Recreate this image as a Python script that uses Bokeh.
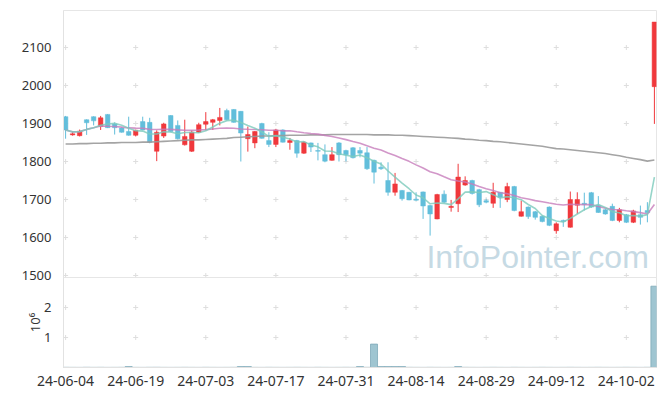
import math
import pandas as pd
from bokeh.plotting import figure
from bokeh.models import Range1d, FixedTicker, Label, ColumnDataSource, Span
from bokeh.embed import file_html
from bokeh.resources import INLINE

# ---- data ----
opens = [1918, 1870, 1868, 1910, 1918, 1892, 1924, 1899, 1888, 1879,
         1869, 1905, 1903, 1827, 1867, 1921, 1895, 1844, 1827, 1877,
         1898, 1903, 1908, 1934, 1937, 1932, 1860, 1849, 1900, 1855,
         1845, 1883, 1850, 1855, 1822, 1849, 1829, 1818, 1803, 1849,
         1829, 1836, 1829, 1823, 1803, 1785, 1750, 1719, 1724, 1719,
         1701, 1720, 1684, 1649, 1714, 1679, 1689, 1738, 1750, 1726,
         1697, 1690, 1719, 1700, 1734, 1656, 1680, 1668, 1656, 1680,
         1618, 1645, 1627, 1685, 1690, 1718, 1684, 1673, 1682, 1645,
         1660, 1640, 1660, 1671, 1997]
highs = [1920, 1880, 1884, 1911, 1919, 1920, 1925, 1903, 1890, 1918,
         1884, 1918, 1915, 1882, 1902, 1922, 1908, 1910, 1882, 1902,
         1930, 1912, 1941, 1939, 1938, 1933, 1892, 1880, 1902, 1877,
         1886, 1885, 1862, 1857, 1853, 1850, 1849, 1845, 1838, 1851,
         1831, 1838, 1838, 1838, 1805, 1798, 1798, 1770, 1725, 1720,
         1719, 1721, 1686, 1715, 1724, 1699, 1794, 1761, 1752, 1728,
         1702, 1744, 1720, 1744, 1736, 1697, 1682, 1670, 1658, 1682,
         1640, 1647, 1721, 1719, 1718, 1720, 1709, 1675, 1689, 1678,
         1662, 1673, 1684, 1693, 2167]
lows = [1860, 1868, 1866, 1870, 1895, 1883, 1888, 1871, 1876, 1868,
        1866, 1882, 1848, 1801, 1862, 1877, 1858, 1842, 1825, 1875,
        1882, 1883, 1895, 1908, 1902, 1800, 1826, 1835, 1860, 1838,
        1838, 1850, 1831, 1810, 1820, 1825, 1803, 1798, 1802, 1800,
        1800, 1808, 1811, 1778, 1742, 1778, 1710, 1710, 1697, 1698,
        1697, 1649, 1605, 1648, 1690, 1668, 1667, 1736, 1713, 1680,
        1690, 1678, 1678, 1693, 1669, 1655, 1649, 1647, 1640, 1630,
        1610, 1628, 1626, 1662, 1671, 1678, 1665, 1660, 1643, 1640,
        1638, 1638, 1634, 1640, 1899]
closes = [1883, 1873, 1880, 1902, 1907, 1915, 1889, 1889, 1877, 1869,
          1882, 1883, 1851, 1877, 1899, 1879, 1860, 1866, 1877, 1897,
          1905, 1910, 1916, 1910, 1903, 1875, 1871, 1879, 1861, 1845,
          1883, 1851, 1855, 1822, 1851, 1838, 1827, 1801, 1818, 1818,
          1818, 1810, 1822, 1781, 1772, 1781, 1719, 1741, 1702, 1699,
          1698, 1683, 1662, 1713, 1693, 1682, 1759, 1750, 1716, 1686,
          1693, 1719, 1706, 1734, 1671, 1668, 1655, 1653, 1642, 1632,
          1636, 1642, 1700, 1700, 1687, 1680, 1666, 1662, 1645, 1673,
          1640, 1670, 1653, 1665, 2167]
volumes = [6000, 5000, 4000, 7000, 5000, 6000, 4000, 5000, 6000, 30000,
           5000, 4000, 6000, 7000, 5000, 4000, 5000, 6000, 5000, 4000,
           6000, 5000, 4000, 5000, 6000, 30000, 30000, 5000, 4000, 6000,
           5000, 4000, 5000, 6000, 5000, 4000, 6000, 5000, 4000, 5000,
           6000, 5000, 30000, 6000, 780000, 30000, 30000, 30000, 30000, 6000,
           5000, 4000, 6000, 5000, 4000, 5000, 30000, 6000, 5000, 4000,
           5000, 6000, 5000, 4000, 6000, 5000, 4000, 5000, 6000, 5000,
           4000, 5000, 6000, 5000, 4000, 5000, 6000, 5000, 4000, 5000,
           6000, 5000, 4000, 6000, 2710000]
ma_long = [1846, 1846, 1847, 1847, 1848, 1848, 1849, 1849, 1850, 1850,
           1850, 1851, 1851, 1852, 1853, 1854, 1855, 1856, 1857, 1857,
           1858, 1859, 1860, 1861, 1863, 1864, 1865, 1866, 1867, 1867,
           1868, 1868, 1869, 1869, 1869, 1870, 1870, 1870, 1871, 1871,
           1871, 1871, 1871, 1871, 1870, 1870, 1870, 1869, 1869, 1868,
           1867, 1866, 1865, 1864, 1863, 1862, 1861, 1859, 1858, 1856,
           1855, 1853, 1852, 1850, 1848, 1846, 1844, 1842, 1840, 1837,
           1834, 1833, 1831, 1829, 1827, 1825, 1823, 1821, 1818, 1815,
           1811, 1808, 1805, 1801, 1804]
tick_idx = [0, 10, 20, 30, 40, 50, 60, 70, 80]
tick_labels = ["24-06-04", "24-06-19", "24-07-03", "24-07-17", "24-07-31",
               "24-08-14", "24-08-29", "24-09-12", "24-10-02"]
price_ticks = [1500, 1600, 1700, 1800, 1900, 2000, 2100]
vol_ticks = [1, 2]          # in millions (10^6)

# ---- derived ----
n = len(closes)
idx = list(range(n))
ma5 = pd.Series(closes).rolling(5, min_periods=1).mean().tolist()
ma20 = pd.Series(closes).rolling(20, min_periods=1).mean().tolist()
vol_m = [v / 1e6 for v in volumes]

RED = "#f0383c"
BLUE = "#62bedb"
FONT = "Noto Sans"

# layout geometry (pixels)
FRAME_H = 357            # price panel (267) + volume panel (90)
PX_PER_100 = 38.0        # price scale
PX_PER_MIL = 30.0        # volume scale
price_top = 2197.4
price_per_px = 100.0 / PX_PER_100
price_bottom = price_top - FRAME_H * price_per_px
price_panel_bottom = price_top - 267 * price_per_px
vol_top = FRAME_H / PX_PER_MIL

def vol_to_price(vm):
    return price_bottom + vm * PX_PER_MIL * price_per_px

def split(cond):
    d = dict(x=[], top=[], bottom=[], hi=[], lo=[])
    for i in idx:
        if cond(i):
            d["x"].append(i)
            d["top"].append(max(opens[i], closes[i]))
            d["bottom"].append(min(opens[i], closes[i]))
            d["hi"].append(highs[i])
            d["lo"].append(lows[i])
    return ColumnDataSource(d)

up_src = split(lambda i: closes[i] >= opens[i])
dn_src = split(lambda i: closes[i] < opens[i])

p = figure(width=660, height=10 + FRAME_H + 22,
           x_range=Range1d(-0.3, 84.3), y_range=Range1d(price_bottom, price_top),
           output_backend="svg", toolbar_location=None,
           min_border_left=62, min_border_right=4, min_border_top=10, min_border_bottom=22)
p.extra_y_ranges = {"vol": Range1d(0, vol_top)}
p.outline_line_color = "#e6e6e6"
p.xgrid.visible = False
p.ygrid.visible = False
for ax in p.axis:
    ax.axis_line_color = "#e2e2e2"
    ax.major_tick_line_color = None
    ax.minor_tick_line_color = None
    ax.major_label_text_color = "#333333"
    ax.major_label_text_font = FONT
    ax.major_label_text_font_size = "13px"

# y axis: price ticks plus the volume panel ticks (placed via the volume scale)
vol_tick_pos = [int(round(vol_to_price(v))) for v in vol_ticks]
p.yaxis.ticker = FixedTicker(ticks=price_ticks + vol_tick_pos)
p.yaxis.major_label_overrides = {pos: str(v) for pos, v in zip(vol_tick_pos, vol_ticks)}
p.yaxis.major_label_standoff = 6

p.xaxis.ticker = FixedTicker(ticks=tick_idx)
p.xaxis.major_label_overrides = {t: l for t, l in zip(tick_idx, tick_labels)}
p.xaxis.major_label_text_font_size = "14px"
p.xaxis.major_label_standoff = 2

# panel separator
p.add_layout(Span(location=price_panel_bottom, dimension="width",
                  line_color="#e6e6e6", line_width=1))

# grid crosses
cx = [x for x in tick_idx for _ in price_ticks]
cy = [y for _ in tick_idx for y in price_ticks]
p.scatter(cx, cy, marker="cross", size=5, line_color="#dedede", line_width=1)
vx = [x for x in tick_idx for _ in vol_ticks]
vy = [y for _ in tick_idx for y in vol_ticks]
p.scatter(vx, vy, marker="cross", size=5, line_color="#dedede", line_width=1,
          y_range_name="vol")

# watermark
p.add_layout(Label(x=83.2, y=price_top - 246 * price_per_px, text="InfoPointer.com",
                   text_font="Liberation Sans", text_font_size="32px",
                   text_color="#c6dae4", text_align="right", text_baseline="middle"))

# volume axis label (placed in the left side panel so it is not clipped to the frame)
p.add_layout(Label(x=-4.4, y=1.5, y_range_name="vol", text="10\u2076", angle=math.pi / 2,
                   text_font=FONT, text_font_size="13px", text_color="#333333",
                   text_align="center", text_baseline="middle"), "left")

# candles
for src, col in ((up_src, RED), (dn_src, BLUE)):
    p.segment(x0="x", y0="hi", x1="x", y1="lo", source=src, line_color=col, line_width=1)
    p.vbar(x="x", width=0.65, top="top", bottom="bottom", source=src,
           fill_color=col, line_color=col, line_width=0.5)

# moving averages
p.line(idx, ma_long, line_color="#9a9a9a", line_width=1.6, line_alpha=0.9)
p.line(idx, ma20, line_color="#c77dbb", line_width=1.6, line_alpha=0.8)
p.line(idx, ma5, line_color="#7ccbbb", line_width=1.6, line_alpha=0.8)

# volume bars
p.vbar(x=idx, top=vol_m, bottom=0, width=1.0, fill_color="#9fc5d1",
       line_color="#7fa9b9", line_width=0.8, y_range_name="vol")

open("out.html", "w").write(file_html(p, INLINE))
